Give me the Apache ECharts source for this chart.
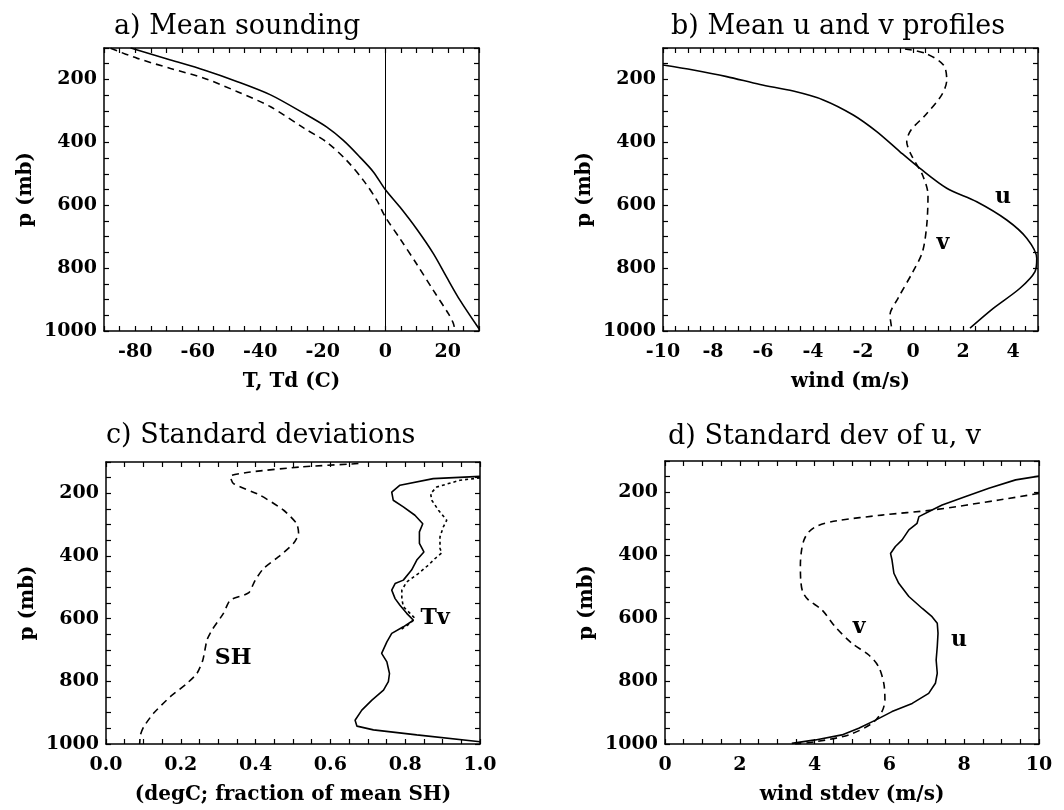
<!DOCTYPE html>
<html>
<head>
<meta charset="utf-8">
<script src="https://cdn.jsdelivr.net/npm/echarts@6/dist/echarts.min.js"></script>
<style>
  html, body { margin: 0; padding: 0; background: #fff; }
  #chart { width: 1064px; height: 810px; }
</style>
</head>
<body>
<div id="chart"></div>
<script>
// a) mean sounding: T (solid) and Td (dashed)
var sndTP = [100, 103, 138, 170, 207, 249, 308, 351, 394, 447, 494, 550, 606, 675, 754, 828, 902, 993]
var sndT = [-81.5, -80.4, -68.7, -58, -47.3, -36.7, -26, -18.8, -13.4, -8.1, -3.8, 0, 4.7, 10.0, 15.4, 19.6, 23.9, 30]
var sndTdP = [101, 133, 165, 196, 239, 287, 355, 399, 457, 521, 584, 637, 706, 786, 871, 945, 976, 1000]
var sndTd = [-87.9, -79.3, -68.7, -58, -47.3, -36.7, -26, -18.8, -12.4, -7.0, -2.7, 0, 4.7, 10, 15.4, 20.2, 21.8, 22.3]

// b) mean wind
var meanUP = [154, 170, 191, 216, 237, 265, 313, 366, 430, 483, 546, 589, 647, 705, 769, 811, 864, 928, 991]
var meanU = [-10, -8.79, -7.45, -6.12, -4.79, -3.59, -2.39, -1.45, -0.52, 0.28, 1.35, 2.55, 3.75, 4.55, 4.95, 4.88, 4.28, 3.21, 2.28]
var meanVP = [103, 117, 154, 202, 249, 313, 361, 398, 440, 504, 567, 663, 748, 811, 896, 949, 991]
var meanV = [-0.32, 0.5, 1.22, 1.35, 1.15, 0.5, -0.08, -0.25, -0.07, 0.38, 0.6, 0.55, 0.38, 0.0, -0.6, -0.92, -0.85]

// c) standard deviations
var sdShP = [105, 116, 132, 146, 169, 206, 254, 297, 328, 360, 398, 440, 477, 518, 541, 583, 637, 668, 732, 775, 807, 849, 902, 945, 971, 1000]
var sdSh = [0.675, 0.519, 0.386, 0.332, 0.341, 0.412, 0.475, 0.510, 0.515, 0.501, 0.466, 0.421, 0.399, 0.381, 0.332, 0.314, 0.283, 0.270, 0.259, 0.243, 0.216, 0.172, 0.127, 0.101, 0.092, 0.090]
var sdTvP = [146, 153, 174, 196, 222, 243, 270, 297, 323, 360, 387, 413, 445, 477, 488, 509, 536, 557, 583, 605, 626, 647, 674, 711, 738, 775, 801, 828, 860, 892, 924, 943, 955, 971, 993]
var sdTv = [1.0, 0.875, 0.786, 0.764, 0.768, 0.795, 0.826, 0.847, 0.838, 0.838, 0.850, 0.831, 0.817, 0.795, 0.773, 0.764, 0.773, 0.786, 0.804, 0.822, 0.795, 0.764, 0.751, 0.737, 0.751, 0.758, 0.755, 0.742, 0.711, 0.684, 0.666, 0.671, 0.715, 0.831, 1.0]
var sdTP = [151, 158, 180, 201, 222, 254, 286, 307, 339, 376, 390, 408, 429, 456, 483, 509, 536, 562, 583, 599, 615, 637]
var sdT = [1.0, 0.947, 0.884, 0.868, 0.871, 0.889, 0.911, 0.902, 0.893, 0.893, 0.898, 0.880, 0.862, 0.835, 0.804, 0.791, 0.791, 0.795, 0.813, 0.826, 0.813, 0.786]

// d) wind standard deviations
var sdUP = [148, 160, 187, 213, 240, 256, 277, 298, 319, 351, 372, 394, 415, 457, 489, 531, 569, 595, 616, 648, 690, 733, 775, 807, 839, 871, 897, 924, 950, 971, 987, 998]
var sdU = [10, 9.375, 8.66, 8.04, 7.41, 7.14, 6.79, 6.74, 6.52, 6.34, 6.16, 6.03, 6.07, 6.12, 6.25, 6.52, 6.88, 7.14, 7.28, 7.30, 7.28, 7.25, 7.28, 7.23, 7.05, 6.61, 6.07, 5.63, 5.18, 4.73, 4.02, 3.39]
var sdVP = [203, 224, 256, 272, 290, 305, 325, 350, 385, 430, 480, 515, 540, 574, 627, 680, 717, 754, 807, 860, 897, 934, 971, 993, 1000]
var sdV = [10, 8.93, 7.14, 5.8, 4.6, 4.1, 3.85, 3.72, 3.65, 3.62, 3.63, 3.68, 3.82, 4.2, 4.55, 5.0, 5.45, 5.71, 5.85, 5.88, 5.8, 5.54, 4.91, 4.02, 3.48]

// curve labels
var labelsB = [['u', 3.6, 574], ['v', 1.2, 720]]
var labelsC = [['SH', 0.34, 725], ['Tv', 0.88, 598]]
var labelsD = [['v', 5.19, 628], ['u', 7.86, 669]]

var titles = ['a) Mean sounding', 'b) Mean u and v profiles', 'c) Standard deviations', 'd) Standard dev of u, v']
var xNames = ['T, Td (C)', 'wind (m/s)', '(degC; fraction of mean SH)', 'wind stdev (m/s)']

var serif = 'DejaVu Serif'
var grids = [
  { left: 104, top: 48, width: 375, height: 283 },
  { left: 663, top: 48, width: 375, height: 283 },
  { left: 106, top: 462, width: 374, height: 282 },
  { left: 665, top: 461, width: 374, height: 283 }
]
// x ranges: min, max, minor step, major step, decimals
var xr = [
  [-90, 30, 5, 20, 0],
  [-10, 5, 0.5, 2, 0],
  [0, 1, 0.05, 0.2, 1],
  [0, 10, 0.5, 2, 0]
]

function zip(xs, ps) {
  return xs.map(function (x, i) { return [x, ps[i]] })
}
function isMajor(v, step) {
  var k = v / step
  return Math.abs(k - Math.round(k)) < 1e-6
}

var xAxes = [], yAxes = []
grids.forEach(function (g, i) {
  var r = xr[i]
  var tick = { show: true, inside: true, length: 5, lineStyle: { color: '#000', width: 1.2 } }
  var line = { show: true, onZero: false, lineStyle: { color: '#000', width: 1.5 } }
  xAxes.push({
    type: 'value', gridIndex: i, position: 'bottom', min: r[0], max: r[1], interval: r[2],
    axisLine: line, axisTick: tick, splitLine: { show: false },
    axisLabel: {
      color: '#000', fontFamily: serif, fontWeight: 'bold', fontSize: 19, margin: 12,
      formatter: function (v) {
        if (!isMajor(v, r[3])) return ''
        return r[4] ? v.toFixed(r[4]) : String(Math.round(v))
      }
    },
    name: xNames[i], nameLocation: 'middle', nameGap: 41,
    nameTextStyle: { color: '#000', fontFamily: serif, fontWeight: 'bold', fontSize: 20 }
  })
  xAxes.push({
    type: 'value', gridIndex: i, position: 'top', min: r[0], max: r[1], interval: r[2],
    axisLine: line, axisTick: tick, axisLabel: { show: false }, splitLine: { show: false }
  })
  yAxes.push({
    type: 'value', gridIndex: i, position: 'left', inverse: true, min: 100, max: 1000, interval: 50,
    axisLine: line, axisTick: tick, splitLine: { show: false },
    axisLabel: {
      color: '#000', fontFamily: serif, fontWeight: 'bold', fontSize: 19, margin: 7,
      formatter: function (v) { return (v % 200 === 0) ? String(v) : '' }
    },
    name: 'p (mb)', nameLocation: 'middle', nameGap: 68, nameRotate: 90,
    nameTextStyle: { color: '#000', fontFamily: serif, fontWeight: 'bold', fontSize: 20 }
  })
  yAxes.push({
    type: 'value', gridIndex: i, position: 'right', inverse: true, min: 100, max: 1000, interval: 50,
    axisLine: line, axisTick: tick, axisLabel: { show: false }, splitLine: { show: false }
  })
})

function curve(i, data, dash, smooth) {
  return {
    type: 'line', xAxisIndex: i * 2, yAxisIndex: i * 2, data: data,
    showSymbol: false, smooth: smooth, silent: true, animation: false, clip: true,
    lineStyle: { color: '#000', width: 1.6, type: dash }
  }
}
function labels(i, list) {
  return {
    type: 'scatter', xAxisIndex: i * 2, yAxisIndex: i * 2, symbolSize: 0, silent: true,
    animation: false,
    data: list.map(function (d) { return { name: d[0], value: [d[1], d[2]] } }),
    label: {
      show: true, position: 'inside', formatter: '{b}', color: '#000',
      textBorderWidth: 0, opacity: 1,
      fontFamily: serif, fontWeight: 'bold', fontSize: 22
    },
    itemStyle: { opacity: 1 }
  }
}

var longDash = [7, 5]
var tSeries = curve(0, zip(sndT, sndTP), 'solid', 0.3)
tSeries.markLine = {
  silent: true, symbol: 'none', label: { show: false }, animation: false,
  lineStyle: { color: '#000', width: 1, type: 'solid' },
  data: [{ xAxis: 0 }]
}

var option = {
  backgroundColor: '#fff',
  animation: false,
  title: titles.map(function (t, i) {
    var pos = [[109, 8], [666, 8], [101, 417], [663, 418]][i]
    return {
      text: t, left: pos[0], top: pos[1],
      textStyle: { color: '#000', fontFamily: serif, fontWeight: 'normal', fontSize: 27 }
    }
  }),
  grid: grids,
  xAxis: xAxes,
  yAxis: yAxes,
  series: [
    tSeries,
    curve(0, zip(sndTd, sndTdP), longDash, 0.3),
    curve(1, zip(meanU, meanUP), 'solid', 0.3),
    curve(1, zip(meanV, meanVP), longDash, 0.3),
    labels(1, labelsB),
    curve(2, zip(sdSh, sdShP), longDash, 0.2),
    curve(2, zip(sdT, sdTP), [3, 3], 0),
    curve(2, zip(sdTv, sdTvP), 'solid', 0),
    labels(2, labelsC),
    curve(3, zip(sdU, sdUP), 'solid', 0),
    curve(3, zip(sdV, sdVP), longDash, 0.3),
    labels(3, labelsD)
  ]
}

var myChart = echarts.init(document.getElementById('chart'))
myChart.setOption(option, true)
</script>
</body>
</html>
